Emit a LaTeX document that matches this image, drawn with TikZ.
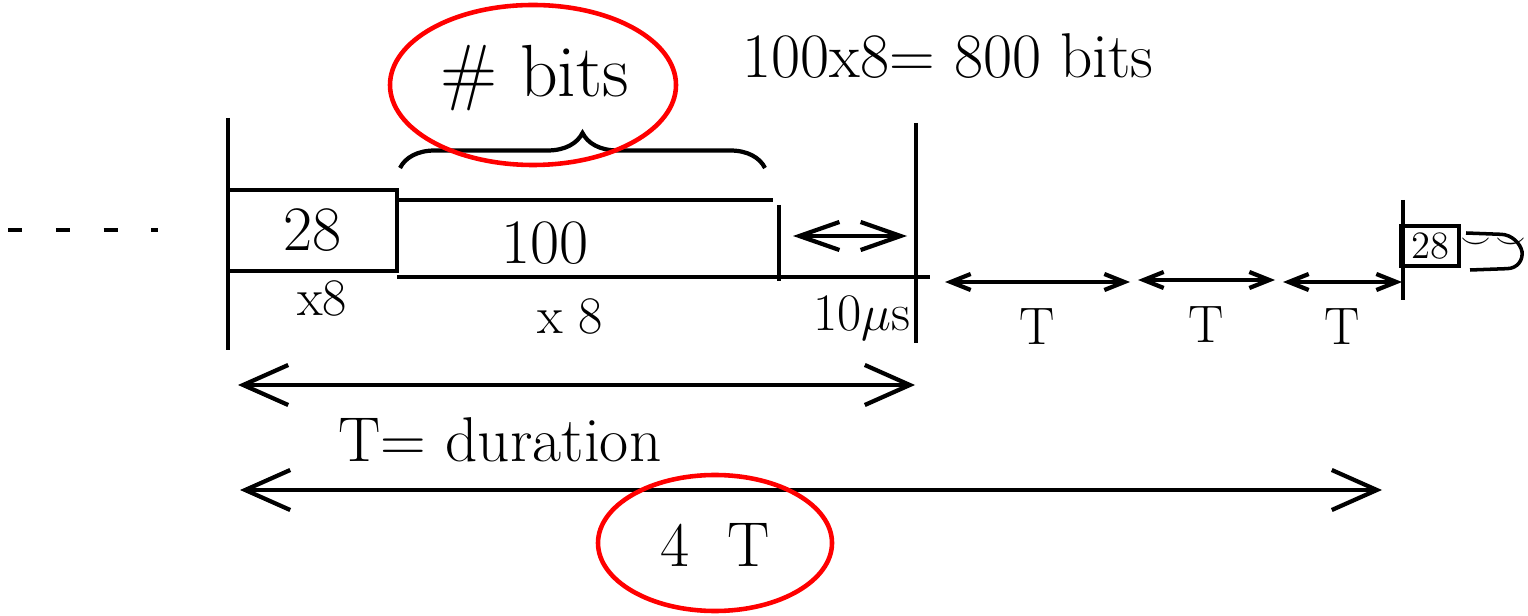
\documentclass[tikz,border=0pt]{standalone}
\usetikzlibrary{arrows.meta, positioning, calc, decorations.pathreplacing}

\begin{document}
\begin{tikzpicture}[
		x=0.01cm, y=-0.01cm,
		line width=1.2pt,
		% estilos
		box/.style={draw, rectangle, line width=1.2pt, inner sep=0pt},
		lbl/.style={font=\fontsize{18}{20}\selectfont, inner sep=1pt},
		small/.style={font=\fontsize{15}{17}\selectfont, inner sep=1pt},
		tiny/.style={font=\fontsize{11}{12}\selectfont, inner sep=0pt},
		redring/.style={draw=red, line width=1.3pt},
		bigarr/.style={draw, {Straight Barb[length=4.5mm, width=4mm]}-{Straight Barb[length=4.5mm, width=4mm]}},
		midarr/.style={draw, {Straight Barb[length=4mm, width=2.8mm]}-{Straight Barb[length=4mm, width=2.8mm]}},
		smallarr/.style={draw, {Straight Barb[length=2mm, width=1.6mm]}-{Straight Barb[length=2mm, width=1.6mm]}}
		]
		\useasboundingbox (0,0) rectangle (1528,616);
		
		% --- TRAMA ---
		
		% puntos a la izquierda
		\coordinate (dotsA) at (8,230);
		\coordinate (dotsB) at (158,230);
		\draw [dash pattern=on 4pt off 9.6pt] (dotsA) -- (dotsB);
		
		% cabecera y datos
		\node [box, minimum width=1.69cm, minimum height=0.81cm, lbl] (hdr) at (312.5,230.5) {28};
		\coordinate (dataTL) at (397,200);
		\coordinate (dataTR) at (773,200);
		\coordinate (dataBL) at (397,277);
		\coordinate (dataBR) at (930,277);
		\draw (dataTL) -- (dataTR);
		\draw (dataBL) -- (dataBR);
		\node [lbl] (payload) at (545,243) {100};
		\coordinate (endT) at (779,205);
		\coordinate (endB) at (779,281);
		\draw (endT) -- (endB);
		
		\node [small] (hdrX) at (322,298) {x8};
		\node [small] (payX) at (570,316) {x 8};
		
		% limites
		\coordinate (limAT) at (228,118);
		\coordinate (limAB) at (228,350);
		\coordinate (limBT) at (916,123);
		\coordinate (limBB) at (916,343);
		\draw (limAT) -- (limAB);
		\draw (limBT) -- (limBB);
		
		% separacion 10 us
		\coordinate (gapL) at (793,236);
		\coordinate (gapR) at (907,236);
		\draw [midarr] (gapL) -- (gapR);
		\node [small] (gapLbl) at (862,318) {10$\mu$s};
		
		% llave sobre los datos
		\coordinate (braceL) at (400,168);
		\coordinate (braceR) at (765,168);
		\draw [decorate, decoration={brace, amplitude=0.35cm}] (braceL) -- (braceR);
		\node [lbl, font=\fontsize{21}{23}\selectfont] (bits) at (535,78) {\# bits};
		\node [lbl] (calc) at (948,56) {100x8= 800 bits};
		
		% --- PERIODOS T ---
		\coordinate (tAL) at (945,282);
		\coordinate (tAR) at (1130,282);
		\coordinate (tBL) at (1138,280);
		\coordinate (tBR) at (1275,280);
		\coordinate (tCL) at (1283,282);
		\coordinate (tCR) at (1402,282);
		\draw [smallarr] (tAL) -- node [small, below=6pt] (tA) {T} (tAR);
		\draw [smallarr] (tBL) -- node [small, below=6pt] (tB) {T} (tBR);
		\draw [smallarr] (tCL) -- node [small, below=6pt] (tC) {T} (tCR);
		
		% siguiente trama
		\coordinate (nextT) at (1403,200);
		\coordinate (nextB) at (1403,300);
		\draw (nextT) -- (nextB);
		\node [box, minimum width=0.58cm, minimum height=0.40cm, tiny] (hdr2) at (1430,246) {28};
		\coordinate (tailA) at (1466,233);
		\coordinate (tailB) at (1519,235);
		\coordinate (tailC) at (1525,268);
		\coordinate (tailD) at (1470,270);
		\draw [line width=1pt, rounded corners=5pt] (tailA) -- (tailB) -- (tailC) -- (tailD);
		\node [font=\fontsize{8}{9}\selectfont, inner sep=0pt] (more) at (1493,243) {$\smile\,\smile$};
		
		% --- DURACIONES ---
		\coordinate (durL) at (238,385);
		\coordinate (durR) at (915,385);
		\draw [bigarr] (durL) -- (durR);
		\node [lbl] (durLbl) at (500,440) {T= duration};
		
		\coordinate (allL) at (240,490);
		\coordinate (allR) at (1382,490);
		\draw [bigarr] (allL) -- (allR);
		\node [lbl] (allLbl) at (715,545) {4\ \ T};
		
		% --- MARCAS EN ROJO ---
		\draw [redring] (533,85) ellipse [x radius=143, y radius=80];
		\draw [redring] (715,543) ellipse [x radius=117, y radius=68];
		
	\end{tikzpicture}
\end{document}
